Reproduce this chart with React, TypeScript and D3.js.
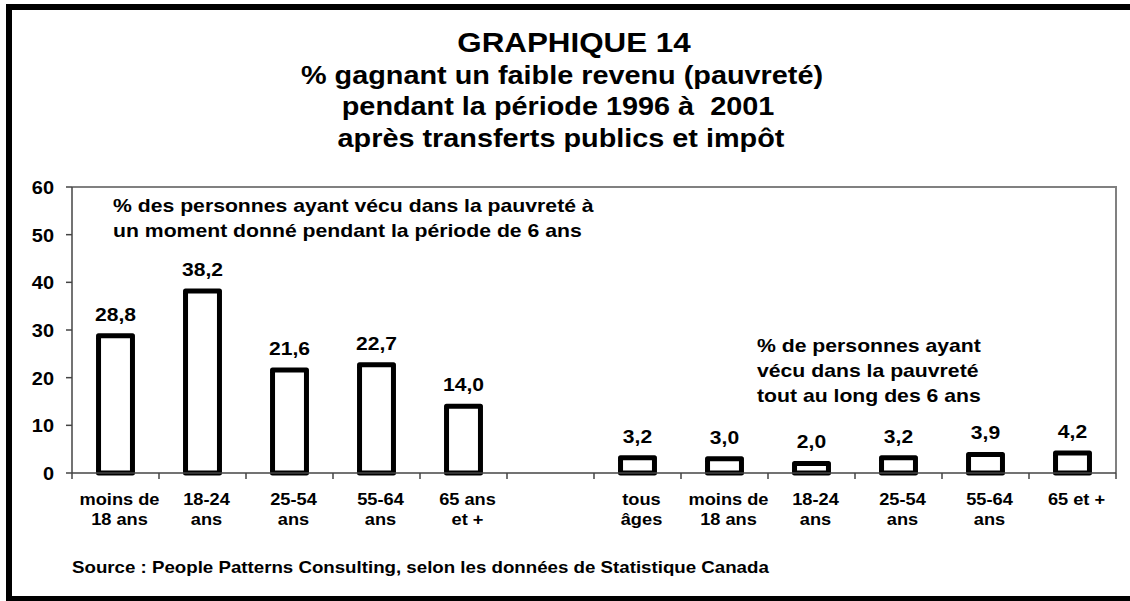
import React, { useEffect } from "react";
import * as d3 from "d3";

const W = 1130;
const H = 601;

const titleLines = [
  "GRAPHIQUE 14",
  "% gagnant un faible revenu (pauvreté)",
  "pendant la période 1996 à  2001",
  "après transferts publics et impôt",
];
const leftNote = [
  "% des personnes ayant vécu dans la pauvreté à",
  "un moment donné pendant la période de 6 ans",
];
const rightNote = [
  "% de personnes ayant",
  "vécu dans la pauvreté",
  "tout au long des 6 ans",
];
const leftLabels = [
  ["moins de", "18 ans"],
  ["18-24", "ans"],
  ["25-54", "ans"],
  ["55-64", "ans"],
  ["65 ans", "et +"],
];
const leftValues = [28.8, 38.2, 21.6, 22.7, 14.0];
const rightLabels = [
  ["tous", "âges"],
  ["moins de", "18 ans"],
  ["18-24", "ans"],
  ["25-54", "ans"],
  ["55-64", "ans"],
  ["65 et +"],
];
const rightValues = [3.2, 3.0, 2.0, 3.2, 3.9, 4.2];
const yTicks = [0, 10, 20, 30, 40, 50, 60];
const sourceText =
  "Source : People Patterns Consulting, selon les données de Statistique Canada";

const FONT = "'Liberation Sans', Arial, Helvetica, sans-serif";
const SX = 1.14;

type TProps = {
  x: number;
  y: number;
  size: number;
  anchor?: "start" | "middle" | "end";
  children: React.ReactNode;
};
const T = ({ x, y, size, anchor = "middle", children }: TProps) => (
  <text
    transform={`translate(${x},${y}) scale(${SX},1)`}
    textAnchor={anchor}
    fontSize={size}
    fontWeight="bold"
    fontFamily={FONT}
    fill="#000"
    style={{ whiteSpace: "pre" }}
  >
    {children}
  </text>
);

type Bar = { key: string; value: number | null; label: string[] };

export default function App() {
  useEffect(() => {
    document.body.style.margin = "0";
    document.body.style.overflow = "hidden";
  }, []);

  const plot = { left: 72, right: 1116, top: 187, bottom: 473 };

  const bars: Bar[] = [
    ...leftValues.map((v, i) => ({ key: `L${i}`, value: v, label: leftLabels[i] })),
    { key: "gap", value: null, label: [] },
    ...rightValues.map((v, i) => ({ key: `R${i}`, value: v, label: rightLabels[i] })),
  ];

  const x = d3
    .scaleBand<string>()
    .domain(bars.map((b) => b.key))
    .range([plot.left, plot.right])
    .paddingInner(0.61)
    .paddingOuter(0.61 / 2);
  const y = d3.scaleLinear().domain([0, 60]).range([plot.bottom, plot.top]);

  const step = x.step();
  const boundaries = d3.range(bars.length + 1).map((i) => plot.left + i * step);
  const fmt = (v: number) => v.toFixed(1).replace(".", ",");

  return (
    <svg
      width={W}
      height={H}
      style={{ position: "absolute", left: 0, top: 0, display: "block", background: "#fff" }}
    >
      <rect x={0} y={0} width={W} height={H} fill="#fff" />
      {/* outer frame */}
      <rect x={9} y={7} width={1135} height={592} fill="none" stroke="#000" strokeWidth={6} />

      {/* title */}
      <T x={574} y={52} size={27.5}>{titleLines[0]}</T>
      <T x={562} y={84} size={25.3}>{titleLines[1]}</T>
      <T x={558} y={115} size={25.3}>{titleLines[2]}</T>
      <T x={561} y={147} size={25.3}>{titleLines[3]}</T>

      {/* plot area border (top & right) */}
      <path
        d={`M${plot.left},${plot.top}H${plot.right}V${plot.bottom}`}
        fill="none"
        stroke="#808080"
        strokeWidth={2}
      />

      {/* y axis */}
      <line x1={plot.left} x2={plot.left} y1={plot.top} y2={plot.bottom} stroke="#444" strokeWidth={1.5} />
      {yTicks.map((t) => (
        <g key={t}>
          <line x1={plot.left - 6} x2={plot.left} y1={y(t)} y2={y(t)} stroke="#444" strokeWidth={1.5} />
          <T x={54} y={y(t) + 7} size={17.5} anchor="end">{t}</T>
        </g>
      ))}

      {/* bars */}
      {bars
        .filter((b) => b.value !== null)
        .map((b) => (
          <rect
            key={b.key}
            x={x(b.key)!}
            y={y(b.value as number)}
            width={x.bandwidth()}
            height={y(0) - y(b.value as number)}
            fill="#fff"
            stroke="#000"
            strokeWidth={5}
            strokeLinejoin="round"
          />
        ))}

      {/* x axis */}
      <line x1={plot.left} x2={plot.right} y1={plot.bottom} y2={plot.bottom} stroke="#444" strokeWidth={1.5} />
      {boundaries.map((bx, i) => (
        <line key={i} x1={bx} x2={bx} y1={plot.bottom} y2={plot.bottom + 6} stroke="#444" strokeWidth={1.5} />
      ))}

      {/* value labels */}
      {bars
        .filter((b) => b.value !== null)
        .map((b) => (
          <T key={b.key} x={x(b.key)! + x.bandwidth() / 2} y={y(b.value as number) - 15} size={18.5}>
            {fmt(b.value as number)}
          </T>
        ))}

      {/* category labels */}
      {bars.map((b) =>
        b.label.map((line, li) => (
          <T key={b.key + li} x={x(b.key)! + x.bandwidth() / 2 + 4} y={505 + li * 20} size={16}>
            {line}
          </T>
        ))
      )}

      {/* annotations */}
      {leftNote.map((l, i) => (
        <T key={l} x={113} y={212 + i * 25} size={18.6} anchor="start">{l}</T>
      ))}
      {rightNote.map((l, i) => (
        <T key={l} x={757} y={352 + i * 25} size={18.6} anchor="start">{l}</T>
      ))}

      {/* source */}
      <T x={72} y={573} size={16.4} anchor="start">{sourceText}</T>
    </svg>
  );
}
